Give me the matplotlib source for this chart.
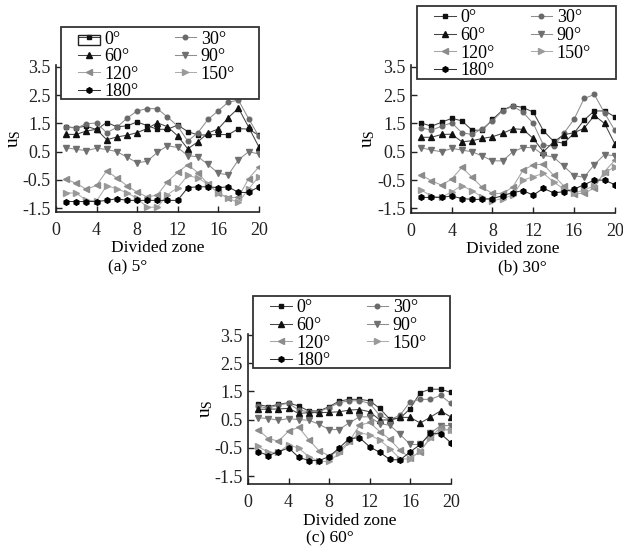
import matplotlib
matplotlib.use('Agg')
import matplotlib.pyplot as plt
from matplotlib.patches import Rectangle

plt.rcParams['font.family'] = ['Liberation Serif', 'DejaVu Serif']
plt.rcParams['mathtext.fontset'] = 'custom'
plt.rcParams['mathtext.rm'] = 'Liberation Serif'
plt.rcParams['mathtext.it'] = 'Liberation Serif:italic'

# ---------------- data ----------------
zones = list(range(1, 21))
angles = ['0°', '30°', '60°', '90°', '120°', '150°', '180°']
xticks = [0, 4, 8, 12, 16, 20]
yticks = [-1.5, -0.5, 0.5, 1.5, 2.5, 3.5]
ytick_labels = ['-1.5', '-0.5', '0.5', '1.5', '2.5', '3.5']
captions = ['(a) 5°', '(b) 30°', '(c) 60°']
xlabel = 'Divided zone'
ylabel = r'$\mathrm{u_S}$'

a0 = [1.37, 1.35, 1.40, 1.28, 1.53, 1.38, 1.41, 1.55, 1.42, 1.29, 1.29, 1.44, 1.21, 1.09, 1.09, 1.11, 1.10, 1.31, 1.30, 1.08]
a30 = [1.37, 1.33, 1.49, 1.51, 1.17, 1.36, 1.68, 1.94, 2.02, 2.02, 1.72, 1.41, 0.87, 1.17, 1.64, 1.94, 2.25, 2.32, 1.67, 1.05]
a60 = [1.11, 1.11, 1.23, 1.29, 0.92, 1.02, 1.08, 1.17, 1.32, 1.52, 1.38, 1.06, 0.60, 0.85, 1.16, 1.30, 1.70, 2.04, 1.37, 0.68]
a90 = [0.64, 0.58, 0.54, 0.62, 0.58, 0.50, 0.31, 0.11, 0.16, 0.48, 0.71, 0.65, 0.36, 0.32, 0.05, -0.26, -0.32, 0.21, 0.50, 0.42]
a120 = [-0.47, -0.62, -0.83, -0.69, -0.18, -0.43, -0.70, -0.93, -1.10, -1.03, -0.56, -0.23, 0.04, -0.24, -0.65, -0.96, -1.13, -1.11, -0.45, -0.05]
a150 = [-0.95, -0.97, -1.21, -1.24, -0.70, -0.81, -0.95, -1.15, -1.46, -1.46, -1.02, -0.77, -0.34, -0.43, -0.65, -0.95, -1.15, -1.29, -0.82, -0.38]
a180 = [-1.26, -1.26, -1.26, -1.26, -1.22, -1.16, -1.22, -1.22, -1.22, -1.22, -1.22, -1.22, -0.77, -0.74, -0.74, -0.77, -0.74, -0.94, -0.94, -0.74]

b0 = [1.52, 1.40, 1.54, 1.68, 1.59, 1.26, 1.26, 1.64, 1.97, 2.13, 2.06, 1.90, 1.24, 0.87, 0.80, 1.15, 1.62, 1.94, 1.94, 1.74]
b30 = [1.35, 1.26, 1.40, 1.52, 1.17, 1.11, 1.32, 1.59, 1.95, 2.11, 1.89, 1.50, 0.74, 0.70, 1.15, 1.64, 2.38, 2.52, 1.87, 1.26]
b60 = [1.01, 1.01, 1.11, 1.12, 0.85, 0.89, 0.97, 1.03, 1.15, 1.31, 1.29, 0.97, 0.50, 0.85, 1.10, 1.17, 1.33, 1.78, 1.50, 0.79]
b90 = [0.64, 0.56, 0.50, 0.62, 0.56, 0.50, 0.35, 0.18, 0.18, 0.50, 0.65, 0.65, 0.38, 0.31, -0.01, -0.34, -0.40, 0.05, 0.40, 0.36]
b120 = [-0.32, -0.52, -0.68, -0.46, -0.05, -0.40, -0.76, -0.97, -0.97, -0.74, -0.15, 0.04, 0.06, -0.33, -0.71, -0.99, -0.96, -0.78, -0.20, 0.20]
b150 = [-0.85, -1.06, -1.11, -0.91, -0.69, -0.88, -1.09, -1.23, -1.15, -1.03, -0.50, -0.38, -0.26, -0.57, -0.81, -0.95, -0.85, -0.70, -0.25, -0.03]
b180 = [-1.11, -1.11, -1.11, -1.06, -1.15, -1.18, -1.18, -1.15, -1.05, -0.94, -0.87, -1.03, -0.79, -0.95, -0.91, -0.82, -0.66, -0.50, -0.50, -0.66]

c0 = [1.04, 0.96, 1.04, 1.10, 0.98, 0.81, 0.81, 0.96, 1.16, 1.22, 1.22, 1.17, 0.90, 0.51, 0.55, 0.89, 1.46, 1.58, 1.58, 1.47]
c30 = [0.98, 0.90, 1.02, 1.08, 0.84, 0.78, 0.78, 0.93, 1.10, 1.17, 1.17, 1.08, 0.65, 0.50, 0.66, 1.13, 1.22, 1.22, 1.36, 1.08]
c60 = [0.87, 0.87, 0.88, 0.90, 0.72, 0.75, 0.75, 0.76, 0.78, 0.84, 0.86, 0.78, 0.49, 0.49, 0.58, 0.58, 0.38, 0.59, 0.81, 0.60]
c90 = [0.57, 0.54, 0.48, 0.54, 0.50, 0.48, 0.34, 0.15, 0.15, 0.39, 0.60, 0.60, 0.36, 0.30, -0.02, -0.38, -0.38, 0.02, 0.29, 0.29]
c120 = [0.15, -0.17, -0.26, 0.09, 0.23, -0.21, -0.60, -0.78, -0.60, -0.26, 0.30, 0.40, 0.08, -0.20, -0.58, -0.85, -0.64, -0.12, 0.23, 0.10]
c150 = [-0.45, -0.66, -0.66, -0.39, -0.51, -0.81, -0.98, -0.98, -0.69, -0.30, 0.04, -0.04, -0.22, -0.53, -0.88, -0.90, -0.60, -0.15, 0.12, 0.15]
c180 = [-0.63, -0.77, -0.64, -0.50, -0.83, -0.95, -0.95, -0.81, -0.50, -0.17, -0.14, -0.46, -0.66, -0.91, -0.93, -0.64, -0.38, 0.01, 0.00, -0.31]

panels = [
    [a0, a30, a60, a90, a120, a150, a180],
    [b0, b30, b60, b90, b120, b150, b180],
    [c0, c30, c60, c90, c120, c150, c180],
]

# ---------------- styles ----------------
styles = [
    dict(marker='s', ms=3.4, mfc='#111111', mec='#111111', color='#444444'),
    dict(marker='o', ms=3.3, mfc='#6a6a6a', mec='#6a6a6a', color='#8e8e8e'),
    dict(marker='^', ms=3.8, mfc='#111111', mec='#111111', color='#444444'),
    dict(marker='v', ms=3.8, mfc='#707070', mec='#707070', color='#8e8e8e'),
    dict(marker='<', ms=3.8, mfc='#8c8c8c', mec='#8c8c8c', color='#a4a4a4'),
    dict(marker='>', ms=3.8, mfc='#9a9a9a', mec='#9a9a9a', color='#acacac'),
    dict(marker='h', ms=4.0, mfc='#000000', mec='#000000', color='#333333'),
]

W, H = 623, 549
fig = plt.figure(figsize=(W / 100, H / 100), dpi=100)

# (left, top, right, bottom) in pixels
axes_px = [(56, 65.3, 258.7, 212.0), (411, 65.3, 614.7, 213.0), (248, 333.6, 450.7, 484.0)]
ylims = [(-1.63, 3.55), (-1.66, 3.55), (-1.78, 3.55)]
# legend frame (left, top, right, bottom) in pixels
legend_box = [(61, 27, 259, 99), (417, 6, 616, 79), (253, 296, 450, 368)]
caption_px = [(128, 267), (522, 267), (330, 538)]

order = [0, 2, 4, 6, 1, 3, 5]
FS = 13

for i, series in enumerate(panels):
    l, t, r, b = axes_px[i]
    ax = fig.add_axes([l / W, 1 - b / H, (r - l) / W, (b - t) / H])
    for k, ys in enumerate(series):
        ax.plot(zones, ys, lw=0.75, label=angles[k], **styles[k])
    ax.set_xlim(0, 20)
    ax.set_ylim(*ylims[i])
    ax.set_xticks(xticks)
    ax.set_yticks(yticks)
    ax.set_yticklabels(ytick_labels)
    for s in ['top', 'right']:
        ax.spines[s].set_visible(False)
    for s in ['left', 'bottom']:
        ax.spines[s].set_linewidth(1.2)
        ax.spines[s].set_color('#222222')
    ax.tick_params(direction='in', length=4, width=1.0, labelsize=FS, colors='#222222')
    ax.tick_params(axis='x', pad=7)
    ax.tick_params(axis='y', pad=4)
    ax.set_xlabel(xlabel, fontsize=12.5)
    ax.xaxis.set_label_coords(0.5, -0.19)
    ax.set_ylabel(ylabel, fontsize=FS + 1)
    ax.yaxis.set_label_coords(-0.165, 0.5)
    ax.patch.set_alpha(0)

    # legend frame drawn explicitly
    bx0, by0, bx1, by1 = legend_box[i]
    fig.patches.append(Rectangle((bx0 / W, 1 - by1 / H), (bx1 - bx0) / W, (by1 - by0) / H,
                                 transform=fig.transFigure, facecolor='white',
                                 edgecolor='#333333', lw=1.3, zorder=3))
    handles, labels = ax.get_legend_handles_labels()
    h2 = [handles[j] for j in order]
    l2 = [labels[j] for j in order]
    leg = fig.legend(h2, l2, loc='upper left',
                     bbox_to_anchor=((bx0 + 17) / W, 1 - (by0 + 3.5) / H),
                     ncol=2, fontsize=FS, numpoints=1, frameon=False,
                     handlelength=1.2, handletextpad=0.25, labelspacing=0.03,
                     columnspacing=2.0, borderpad=0, borderaxespad=0)
    leg.set_zorder(5)

    cx, cy = caption_px[i]
    fig.text(cx / W, 1 - cy / H, captions[i], fontsize=12.5, ha='center', va='center')

# small selection box around first legend handle in panel (a)
fig.patches.append(Rectangle((78 / W, 1 - 45 / H), 22 / W, 10 / H, transform=fig.transFigure,
                             fill=False, edgecolor='#222222', lw=1.0, zorder=6))

fig.savefig('out.png', dpi=100)
